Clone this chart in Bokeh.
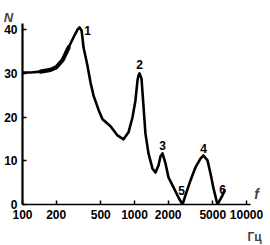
from bokeh.plotting import figure
from bokeh.models import Range1d, FixedTicker, Label
from bokeh.core.properties import value
from bokeh.embed import file_html
from bokeh.resources import INLINE

# frequency (Hz) and N
freq = [100, 118, 145, 178, 201, 228, 258, 285, 310, 323, 337, 351, 380, 405, 431, 477, 518,
        611, 705, 798, 884, 959, 1020, 1064, 1086, 1109, 1155, 1202, 1253, 1333, 1448, 1540,
        1638, 1706, 1778, 1892, 2012, 2230, 2471, 2683, 2851, 3162, 3505, 3881, 4130, 4487,
        4772, 5075, 5508, 6105, 6368]
n_val = [30.2, 30.2, 30.4, 30.8, 31.4, 33.0, 35.9, 38.2, 40.0, 40.5, 39.8, 35.9, 31.8, 27.9, 24.9, 21.7, 19.5,
         17.9, 15.8, 14.9, 16.5, 19.9, 23.8, 28.4, 29.5, 30.0, 28.8, 22.7, 16.2, 11.7, 8.2, 7.3,
         8.9, 11.0, 11.7, 9.4, 6.2, 3.9, 1.6, 0.0, 2.1, 5.5, 8.5, 10.5, 11.2, 10.1,
         7.1, 3.7, 0.0, 2.1, 3.2]

x_ticks = [100, 200, 500, 1000, 2000, 5000, 10000]
y_ticks = [0, 10, 20, 30, 40]

mark_text = ["1", "2", "3", "4", "5", "6"]
mark_f = [323, 1109, 1778, 4130, 2683, 5508]
mark_n = [40.5, 30.0, 11.7, 11.2, 0.0, 0.0]
mark_dx = [8, 0, 0, 0, -1, 5]
mark_dy = [3, -9, -8, -7, -14, -15]

FONT = "Liberation Sans"

p = figure(width=270, height=245, x_axis_type="log", output_backend="svg",
           toolbar_location=None, tools="",
           x_range=Range1d(100, 10862), y_range=Range1d(0, 41.4),
           min_border_left=22, min_border_right=20, min_border_top=23, min_border_bottom=41)
p.outline_line_color = None
p.grid.visible = False
p.background_fill_color = "white"
p.border_fill_color = "white"

p.line(freq, n_val, line_color="black", line_width=2.6, line_join="round", line_cap="round")
# thicker stroke on the plateau, as in the original drawing
p.line(freq[2:7], n_val[2:7], line_color="black", line_width=4.2, line_join="round", line_cap="round")

p.text(x=mark_f, y=mark_n, text=mark_text, x_offset=mark_dx, y_offset=mark_dy,
       text_align="center", text_baseline="middle", text_font=value(FONT),
       text_font_size="12px", text_font_style="bold", text_color="black")

for ax in (p.xaxis[0], p.yaxis[0]):
    ax.axis_line_color = "black"
    ax.major_tick_line_color = "black"
    ax.minor_tick_line_color = None
    ax.major_tick_out = 0
    ax.major_tick_in = 4
    ax.major_tick_line_width = 1.5
    ax.major_label_text_font = FONT
    ax.major_label_text_font_size = "12px"
    ax.major_label_text_font_style = "bold"
    ax.major_label_text_color = "black"

p.xaxis[0].ticker = FixedTicker(ticks=x_ticks)
p.xaxis[0].major_label_overrides = {t: str(t) for t in x_ticks}
p.xaxis[0].axis_line_width = 1.6
p.xaxis[0].major_label_standoff = 5
p.yaxis[0].ticker = FixedTicker(ticks=y_ticks)
p.yaxis[0].axis_line_width = 2.2
p.yaxis[0].major_label_standoff = 5

p.add_layout(Label(x=-14, y=6, x_units="screen", y_units="screen", text="N",
                   text_align="center", text_baseline="middle",
                   text_font=FONT, text_font_size="13px", text_font_style="bold italic"), "above")
p.add_layout(Label(x=6, y=11, x_units="screen", y_units="screen", text="f",
                   text_align="center", text_baseline="middle",
                   text_font=FONT, text_font_size="14px", text_font_style="bold italic"), "right")
p.add_layout(Label(x=232, y=-1.5, x_units="screen", y_units="screen", text="Гц",
                   text_align="center", text_baseline="middle",
                   text_font=FONT, text_font_size="12px", text_font_style="bold"), "below")

open("out.html", "w").write(file_html(p, INLINE))
